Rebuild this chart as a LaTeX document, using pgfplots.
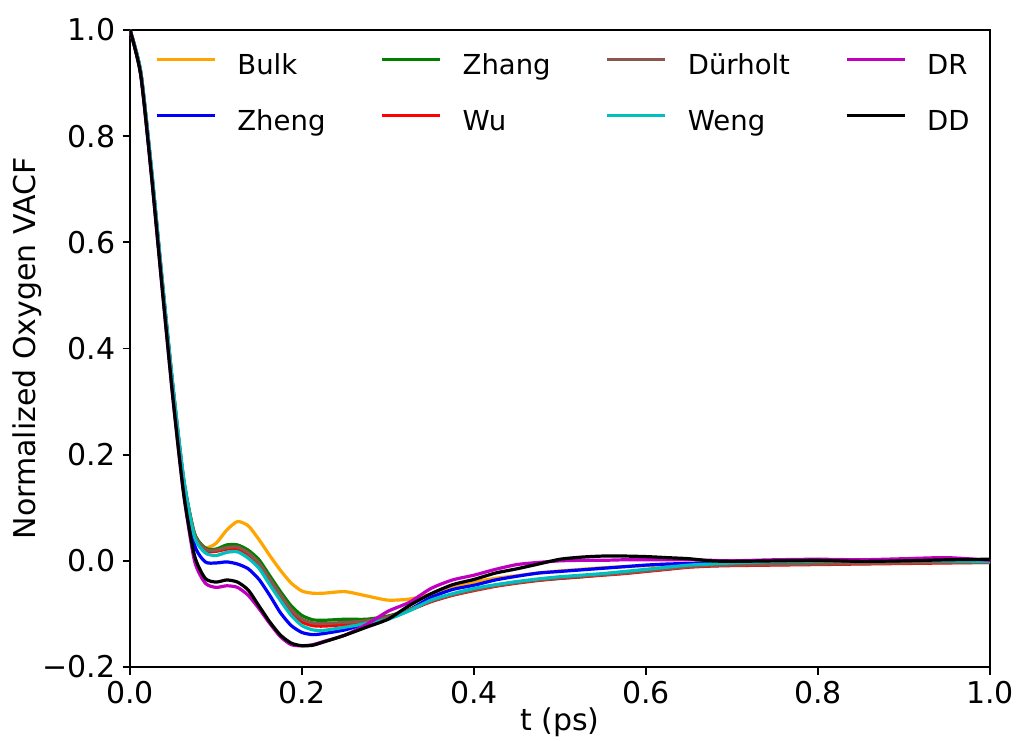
\documentclass[border=0pt]{standalone}
\usepackage{pgfplots}
\pgfplotsset{compat=1.18}
\usepackage{pgfplotstable}
\usepackage{fontspec}
\setmainfont{DejaVu Sans}
\definecolor{cbulk}{HTML}{FFA500}
\definecolor{czheng}{HTML}{0000FF}
\definecolor{czhang}{HTML}{008000}
\definecolor{cwu}{HTML}{FF0000}
\definecolor{cdur}{HTML}{8C564B}
\definecolor{cweng}{HTML}{00BFBF}
\definecolor{cdr}{HTML}{BF00BF}
\definecolor{cdd}{HTML}{000000}
\pgfplotstableread{
t      bulk   zheng  zhang  wu     durh   weng   dr     dd
0      1.000  1.000  1.000  1.000  1.000  1.000  1.000  1.000
0.0125 0.920  0.918  0.920  0.920  0.920  0.922  0.915  0.915
0.025  0.735  0.730  0.735  0.735  0.735  0.740  0.725  0.725
0.0375 0.525  0.520  0.525  0.525  0.525  0.530  0.512  0.512
0.05   0.325  0.318  0.325  0.325  0.325  0.330  0.305  0.305
0.0625 0.150  0.140  0.152  0.150  0.150  0.155  0.125  0.125
0.075  0.050  0.030  0.052  0.048  0.050  0.045  0.000  0.010
0.0875 0.025  -0.002 0.024  0.020  0.022  0.015  -0.042 -0.033
0.1    0.033  -0.004 0.022  0.018  0.020  0.010  -0.050 -0.040
0.1125 0.058  -0.002 0.030  0.022  0.025  0.016  -0.047 -0.036
0.125  0.074  -0.006 0.030  0.022  0.026  0.017  -0.050 -0.040
0.1375 0.066  -0.015 0.020  0.012  0.015  0.005  -0.065 -0.055
0.15   0.040  -0.035 0.002  -0.008 -0.004 -0.014 -0.090 -0.085
0.1625 0.010  -0.065 -0.028 -0.038 -0.034 -0.045 -0.118 -0.115
0.175  -0.018 -0.098 -0.058 -0.070 -0.064 -0.075 -0.143 -0.140
0.1875 -0.042 -0.122 -0.085 -0.097 -0.092 -0.103 -0.158 -0.155
0.2    -0.057 -0.135 -0.103 -0.115 -0.110 -0.122 -0.160 -0.160
0.2125 -0.061 -0.139 -0.111 -0.122 -0.117 -0.130 -0.158 -0.159
0.225  -0.061 -0.137 -0.112 -0.123 -0.118 -0.131 -0.152 -0.153
0.25   -0.058 -0.130 -0.110 -0.120 -0.116 -0.125 -0.140 -0.140
0.275  -0.066 -0.118 -0.110 -0.115 -0.113 -0.118 -0.120 -0.125
0.3    -0.074 -0.108 -0.104 -0.106 -0.106 -0.110 -0.095 -0.110
0.325  -0.072 -0.092 -0.092 -0.093 -0.092 -0.094 -0.078 -0.084
0.35   -0.063 -0.069 -0.076 -0.077 -0.076 -0.074 -0.052 -0.062
0.375  -0.050 -0.054 -0.064 -0.065 -0.064 -0.062 -0.036 -0.045
0.4    -0.040 -0.046 -0.054 -0.056 -0.055 -0.052 -0.027 -0.035
0.425  -0.033 -0.036 -0.046 -0.048 -0.047 -0.045 -0.016 -0.023
0.45   -0.028 -0.029 -0.040 -0.042 -0.041 -0.039 -0.007 -0.015
0.475  -0.023 -0.023 -0.036 -0.037 -0.036 -0.034 -0.003 -0.006
0.5    -0.019 -0.020 -0.033 -0.033 -0.032 -0.030 0.000  0.003
0.525  -0.016 -0.017 -0.030 -0.030 -0.029 -0.027 0.001  0.007
0.55   -0.013 -0.014 -0.026 -0.027 -0.026 -0.024 0.001  0.009
0.575  -0.011 -0.011 -0.022 -0.024 -0.023 -0.020 0.002  0.009
0.6    -0.009 -0.008 -0.018 -0.020 -0.019 -0.016 0.002  0.008
0.625  -0.007 -0.006 -0.014 -0.016 -0.015 -0.012 0.002  0.006
0.65   -0.006 -0.005 -0.011 -0.012 -0.011 -0.008 0.002  0.004
0.675  -0.005 -0.004 -0.009 -0.010 -0.009 -0.006 0.001  0.000
0.7    -0.004 -0.004 -0.008 -0.009 -0.008 -0.004 0.000  -0.001
0.75   -0.003 -0.003 -0.006 -0.008 -0.007 -0.001 0.002  0.000
0.8    -0.002 -0.002 -0.004 -0.007 -0.006 0.000  0.003  0.001
0.85   -0.001 -0.001 -0.003 -0.006 -0.005 0.001  0.002  -0.001
0.9    0.000  0.000  -0.002 -0.005 -0.004 0.002  0.004  0.000
0.95   0.001  0.001  -0.002 -0.004 -0.003 0.000  0.006  0.002
1.0    0.002  0.002  -0.002 -0.003 -0.003 -0.001 0.001  0.003
}\vacf
\begin{document}
\begin{tikzpicture}
\begin{axis}[
  scale only axis, width=860pt, height=637pt,
  xmin=0, xmax=1, ymin=-0.2, ymax=1.0,
  axis line style={line width=1.7pt},
  tick style={line width=1.7pt, black},
  tick align=outside, major tick length=7.5pt,
  xtick pos=bottom, ytick pos=left,
  xtick={0,0.2,0.4,0.6,0.8,1.0},
  xticklabels={0.0,0.2,0.4,0.6,0.8,1.0},
  ytick={-0.2,0,0.2,0.4,0.6,0.8,1.0},
  yticklabels={−0.2,0.0,0.2,0.4,0.6,0.8,1.0},
  ticklabel style={font=\fontsize{30}{36}\selectfont},
  xticklabel style={inner sep=0pt, yshift=-7pt},
  yticklabel style={inner sep=0pt, xshift=-7pt},
  xlabel={t (ps)}, ylabel={Normalized Oxygen VACF},
  label style={font=\fontsize{30}{36}\selectfont},
  xlabel style={at={(axis description cs:0.5,-0.100)}, anchor=base},
  ylabel style={at={(axis description cs:-0.12,0.5)}, anchor=center},
  every axis plot/.append style={line width=3.2pt, smooth, tension=0.4},
  legend columns=4, legend cell align=left,
  legend style={draw=none, fill=none, inner sep=0pt,
    at={(axis description cs:0,1)}, anchor=north west, xshift=25pt, yshift=-24pt,
    font=\fontsize{27.5}{33}\selectfont,
    column sep=21pt, row sep=30pt,
    nodes={inner sep=0pt, text height=20pt, text depth=6pt},
    /tikz/every even column/.append style={column sep=55pt}},
  legend image code/.code={\draw[#1, sharp plot] (0pt,8pt) -- (58pt,8pt);},
]
\addplot[cbulk, forget plot] table[x=t, y=bulk] {\vacf};
\addplot[czheng, forget plot] table[x=t, y=zheng] {\vacf};
\addplot[czhang, forget plot] table[x=t, y=zhang] {\vacf};
\addplot[cwu, forget plot] table[x=t, y=wu] {\vacf};
\addplot[cdur, forget plot] table[x=t, y=durh] {\vacf};
\addplot[cweng, forget plot] table[x=t, y=weng] {\vacf};
\addplot[cdr, forget plot] table[x=t, y=dr] {\vacf};
\addplot[cdd, forget plot] table[x=t, y=dd] {\vacf};
\addlegendimage{cbulk, line width=3.2pt}\addlegendentry{Bulk}
\addlegendimage{czhang, line width=3.2pt}\addlegendentry{Zhang}
\addlegendimage{cdur, line width=3.2pt}\addlegendentry{Dürholt}
\addlegendimage{cdr, line width=3.2pt}\addlegendentry{DR}
\addlegendimage{czheng, line width=3.2pt}\addlegendentry{Zheng}
\addlegendimage{cwu, line width=3.2pt}\addlegendentry{Wu}
\addlegendimage{cweng, line width=3.2pt}\addlegendentry{Weng}
\addlegendimage{cdd, line width=3.2pt}\addlegendentry{DD}
\end{axis}
\pgfresetboundingbox
\path (-130pt,-73pt) rectangle (887pt,667pt);
\end{tikzpicture}
\end{document}
